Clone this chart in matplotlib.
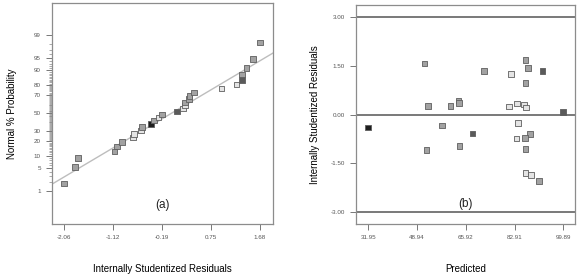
import matplotlib
matplotlib.use("Agg")
import matplotlib.pyplot as plt
import numpy as np
from statistics import NormalDist

plt.rcParams['font.family'] = ['Liberation Sans', 'DejaVu Sans']

# (a) normal probability plot of residuals
resid_a = [-2.06, -1.85, -1.79, -1.09, -1.05, -0.95, -0.74, -0.72, -0.59, -0.57,
           -0.40, -0.34, -0.25, -0.19, 0.10, 0.21, 0.25, 0.25, 0.33, 0.34,
           0.42, 0.95, 1.24, 1.34, 1.34, 1.43, 1.55, 1.68]
prob_a = [1.8, 5.4, 8.9, 12.5, 16.1, 19.6, 23.2, 26.8, 30.4, 33.9,
          37.5, 41.1, 44.6, 48.2, 51.8, 55.4, 58.9, 62.5, 66.1, 69.6,
          73.2, 76.8, 80.4, 83.9, 87.5, 91.1, 94.6, 98.2]
shade_a = ['m', 'm', 'm', 'm', 'm', 'm', 'l', 'l', 'l', 'm',
           'k', 'm', 'l', 'm', 'd', 'l', 'l', 'm', 'm', 'm',
           'm', 'l', 'l', 'd', 'm', 'm', 'm', 'm']
line_a = [-2.29, 1.93]      # residual range of the reference line
line_p = [1.7, 96.3]        # its probability at both ends

# (b) residuals vs predicted
pred_b = [31.95, 51.48, 52.77, 57.55, 60.55, 63.34, 63.48, 68.22, 72.20, 80.92,
          81.62, 83.71, 84.06, 83.57, 86.26, 86.71, 86.71, 86.85, 87.65, 92.64,
          99.86, 88.35, 86.47, 52.18, 63.69, 86.71, 86.71, 88.59, 91.39]
resid_b = [-0.40, 1.57, 0.27, -0.34, 0.27, 0.44, 0.36, -0.58, 1.35, 0.25,
           1.25, 0.35, -0.25, -0.73, 0.32, 1.69, 0.97, 0.22, 1.43, 1.34,
           0.09, -0.59, -0.71, -1.08, -0.96, -1.06, -1.79, -1.85, -2.05]
shade_b = ['k', 'm', 'm', 'm', 'm', 'm', 'm', 'd', 'm', 'l',
           'l', 'l', 'l', 'l', 'l', 'm', 'm', 'l', 'm', 'd',
           'd', 'm', 'm', 'm', 'm', 'm', 'l', 'l', 'm']
limits_b = [3.0, 0.0, -3.0]

xticks_a = [-2.06, -1.12, -0.19, 0.75, 1.68]
yticks_a = [1, 5, 10, 20, 30, 50, 70, 80, 90, 95, 99]
xticks_b = [31.95, 48.94, 65.92, 82.91, 99.89]
yticks_b = [-3.00, -1.50, 0.00, 1.50, 3.00]

fills = {'l': '#e4e4e4', 'm': '#a2a2a2', 'd': '#5a5a5a', 'k': '#1e1e1e'}
nd = NormalDist()


def z(p):
    return np.array([nd.inv_cdf(v / 100.0) for v in p])


fig = plt.figure(figsize=(5.83, 2.75), dpi=100)
ax1 = fig.add_axes([0.089, 0.185, 0.379, 0.804])
ax2 = fig.add_axes([0.611, 0.185, 0.376, 0.796])

for ax in (ax1, ax2):
    for s in ax.spines.values():
        s.set_color('#8c8c8c')
        s.set_linewidth(0.9)
    ax.tick_params(length=4, width=0.7, color='#777777', labelsize=4.5,
                   labelcolor='#555555', pad=4)

# panel (a)
ax1.plot(line_a, z(line_p), color='#bdbdbd', lw=1.0, zorder=1)
ax1.scatter(resid_a, z(prob_a), marker='s', s=16,
            c=[fills[k] for k in shade_a], edgecolors='#5e5e5e',
            linewidths=0.6, zorder=3)
ax1.set_xlim(-2.29, 1.93)
ax1.set_ylim(-3.31, 3.28)
ax1.set_xticks(xticks_a)
ax1.set_xticklabels(['%.2f' % v for v in xticks_a])
ax1.set_yticks(z(yticks_a))
ax1.set_yticklabels([str(v) for v in yticks_a])
minor = [p for p in range(1, 100) if p not in yticks_a]
ax1.set_yticks(z(minor), minor=True)
ax1.tick_params(axis='y', which='minor', length=2, width=0.5, color='#888888')
ax1.set_xlabel('Internally Studentized Residuals', fontsize=7, labelpad=17)
ax1.set_ylabel('Normal % Probability', fontsize=7, labelpad=12)
ax1.text(0.5, 0.085, '(a)', transform=ax1.transAxes, ha='center',
         va='center', fontsize=8.5, color='#222222')

# panel (b)
for h in limits_b:
    ax2.axhline(h, color='#555555', lw=1.1, zorder=1)
ax2.scatter(pred_b, resid_b, marker='s', s=16,
            c=[fills[k] for k in shade_b], edgecolors='#5e5e5e',
            linewidths=0.6, zorder=3)
ax2.set_xlim(27.76, 104.1)
ax2.set_ylim(-3.37, 3.37)
ax2.set_xticks(xticks_b)
ax2.set_xticklabels(['%.2f' % v for v in xticks_b])
ax2.set_yticks(yticks_b)
ax2.set_yticklabels(['%.2f' % v for v in yticks_b])
ax2.set_xlabel('Predicted', fontsize=7, labelpad=17)
ax2.set_ylabel('Internally Studentized Residuals', fontsize=7, labelpad=8)
ax2.text(0.5, 0.09, '(b)', transform=ax2.transAxes, ha='center',
         va='center', fontsize=8.5, color='#222222')

fig.savefig('out.png', dpi=100)
